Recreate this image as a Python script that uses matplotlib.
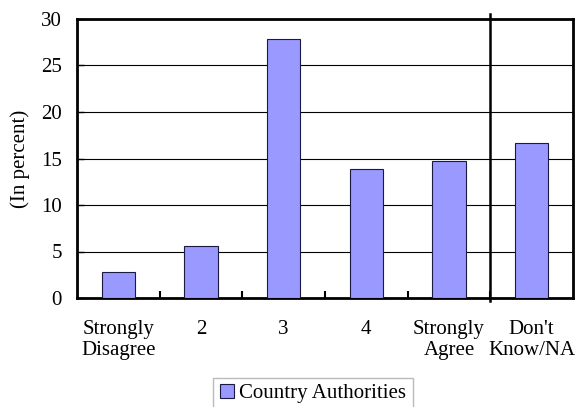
import matplotlib.pyplot as plt
import numpy as np

# Survey responses
categories = ["Strongly\nDisagree", "2", "3", "4", "Strongly\nAgree", "Don't\nKnow/NA"]
values = [2.8, 5.6, 27.8, 13.9, 14.7, 16.7]
series_name = "Country Authorities"
yticks = [0, 5, 10, 15, 20, 25, 30]

plt.rcParams['font.family'] = ['Liberation Serif', 'DejaVu Serif']
plt.rcParams['font.size'] = 15

fig = plt.figure(figsize=(5.77, 4.07), dpi=100)
ax = fig.add_axes([77 / 577, 1 - 298 / 407, 496 / 577, 279 / 407])

x = np.arange(len(categories))
ax.bar(x, values, width=0.4, color="#9999FF", edgecolor="#1a1a40", linewidth=0.8,
       label=series_name, zorder=3)

ax.set_xlim(-0.5, len(categories) - 0.5)
ax.set_ylim(0, 30)
ax.set_yticks(yticks)
ax.yaxis.grid(True, color="black", linewidth=0.8)
ax.set_axisbelow(True)

# ticks between categories
ax.set_xticks(x[:-1] + 0.5)
ax.set_xticklabels([])
ax.set_xticks(x, minor=True)
ax.set_xticklabels(categories, minor=True, linespacing=1.1)
ax.tick_params(axis='x', which='minor', length=0, pad=16)
ax.tick_params(axis='x', which='major', direction='in', length=5, width=1.5)
ax.tick_params(axis='y', direction='in', length=5, width=1, pad=11)

for s in ax.spines.values():
    s.set_linewidth(2)

# separator before "Don't Know/NA"
ax.plot([4.5, 4.5], [-0.3, 30.5], color="black", linewidth=1.8, clip_on=False, zorder=4)

ax.set_ylabel("(In percent)", labelpad=8)

ax.legend(loc="upper center", bbox_to_anchor=(0.476, -0.285), frameon=True, fancybox=False,
          edgecolor="#aaaaaa", handlelength=0.7, handleheight=0.7, handletextpad=0.25,
          borderpad=0.3, borderaxespad=0, fontsize=15)

fig.savefig("out.png", dpi=100)
